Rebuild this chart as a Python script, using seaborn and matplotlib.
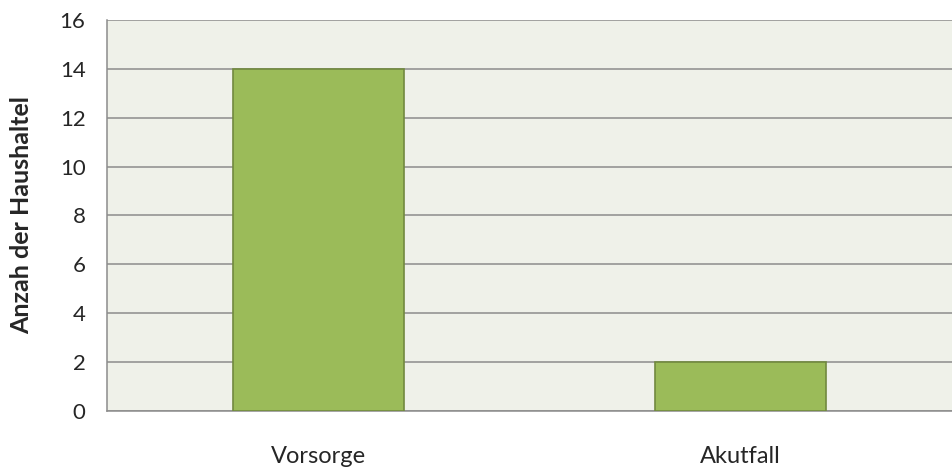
import matplotlib
matplotlib.use("Agg")
import matplotlib.pyplot as plt
import pandas as pd
import seaborn as sns

categories = ["Vorsorge", "Akutfall"]
counts = [14, 2]
y_ticks = [0, 2, 4, 6, 8, 10, 12, 14, 16]

df = pd.DataFrame({"kategorie": categories, "anzahl": counts})

sns.set_style("white")
plt.rcParams["font.family"] = ["Lato", "DejaVu Sans"]

fig = plt.figure(figsize=(9.52, 4.73), dpi=100)
ax = fig.add_axes([0.1124, 0.131, 0.8876, 0.827])
ax.set_facecolor("#EFF1E9")

sns.barplot(data=df, x="kategorie", y="anzahl", color="#9BBB59",
            edgecolor="#71893F", linewidth=1.2, width=0.405, saturation=1,
            ax=ax, zorder=3)

ax.set_ylim(0, 16)
ax.set_xlim(-0.5, 1.5)
ax.set_yticks(y_ticks)
ax.yaxis.grid(True, color="#8C8C8C", linewidth=1.1)
ax.set_axisbelow(True)
ax.tick_params(axis="y", length=5.5, color="#8C8C8C", width=1.1, labelsize=16, pad=10)
ax.tick_params(axis="x", length=0, labelsize=17, pad=25)

for s in ["top", "right"]:
    ax.spines[s].set_visible(False)
for s in ["left", "bottom"]:
    ax.spines[s].set_color("#8C8C8C")
    ax.spines[s].set_linewidth(1.1)

ax.set_xlabel("")
ax.set_ylabel("Anzah der Haushaltel", fontsize=18, fontweight="bold")
ax.yaxis.set_label_coords(-0.087, 0.5)

fig.savefig("out.png", dpi=100)
